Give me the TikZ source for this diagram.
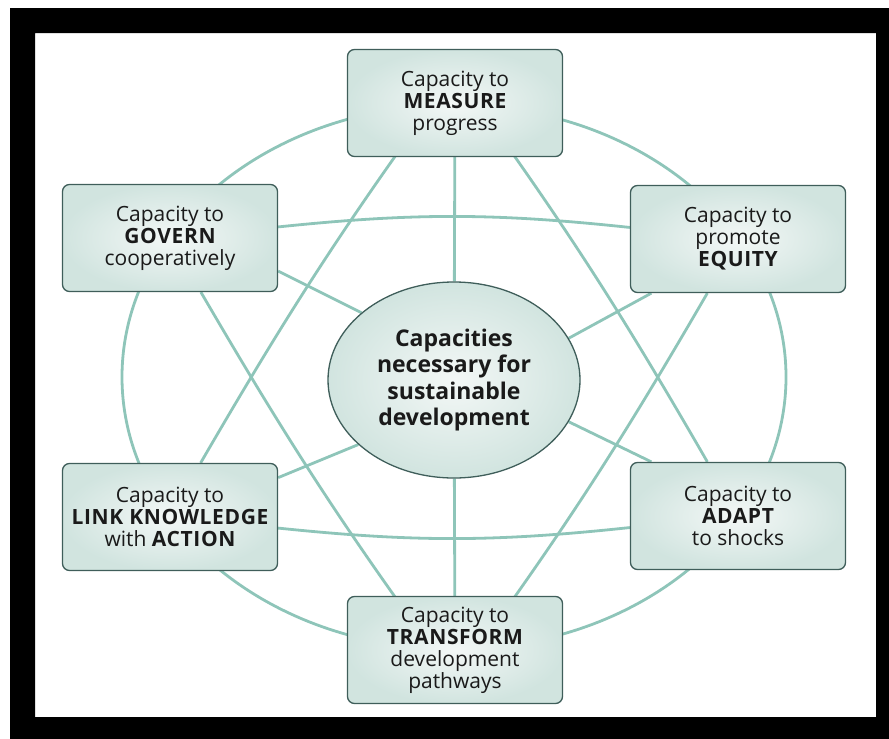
\documentclass[tikz,border=0pt]{standalone}
\usepackage{fontspec}
\setmainfont{Open Sans}
\usepackage{tikz}
\usetikzlibrary{shapes.geometric,backgrounds}

\definecolor{tieteal}{HTML}{8EC5B9}
\definecolor{boxedge}{HTML}{3F5E5A}
\definecolor{boxfill}{HTML}{E2ECE9}
\definecolor{inktext}{HTML}{1A1A1A}

% bold keyword inside a capacity box
\newcommand{\kw}[1]{{\bfseries\addfontfeatures{LetterSpace=3}#1}}

\begin{document}
\begin{tikzpicture}[x=1pt, y=-1pt,
    capbox/.style={rectangle, rounded corners=7pt, draw=boxedge, line width=1.3pt,
                   inner color=boxfill!40!white, outer color=boxfill!80!tieteal,
                   minimum width=215pt, minimum height=107pt, inner sep=1pt,
                   align=center, text=inktext, font=\fontsize{21}{22}\selectfont},
    hubnode/.style={ellipse, draw=boxedge, line width=1.3pt,
                    inner color=boxfill!40!white, outer color=boxfill!80!tieteal,
                    minimum width=252pt, minimum height=196pt, inner sep=0pt,
                    align=center, text=inktext, font=\bfseries\fontsize{23}{26.5}\selectfont},
    tie/.style={draw=tieteal, line width=2.8pt}
]
    \useasboundingbox (0,0) rectangle (889,739);

    % black frame round the page
    \fill[black, even odd rule] (10,8) rectangle (889,739) (35,33) rectangle (876,717);

    \node[hubnode] (hub) at (454,380) {Capacities\\necessary for\\sustainable\\development};

    \node[capbox] (measure) at (455,103) {Capacity to\\\kw{MEASURE}\\progress};
    \node[capbox] (equity) at (738,239) {Capacity to\\promote\\\kw{EQUITY}};
    \node[capbox] (adapt) at (738,516) {Capacity to\\\kw{ADAPT}\\to shocks};
    \node[capbox] (transform) at (455,650) {Capacity to\\\kw{TRANSFORM}\\development\\pathways};
    \node[capbox] (link) at (170,517) {Capacity to\\\kw{LINK KNOWLEDGE}\\with \kw{ACTION}};
    \node[capbox] (gov) at (170,238) {Capacity to\\\kw{GOVERN}\\cooperatively};

    \coordinate (mtip) at ([yshift=30pt]measure.center);
    \coordinate (ttip) at ([yshift=-30pt]transform.center);

    \begin{scope}[on background layer]
        % outer ring
        \draw[tie] (454,377) ellipse [x radius=332, y radius=272];
        % the two triangles, sides bowed outwards
        \draw[tie] (mtip) to[bend right=3] (link);
        \draw[tie] (mtip) to[bend left=3] (adapt);
        \draw[tie] (link) to[bend right=6] (adapt);
        \draw[tie] (ttip) to[bend left=3] (gov);
        \draw[tie] (ttip) to[bend right=3] (equity);
        \draw[tie] (gov) to[bend left=6] (equity);
        % spokes to the hub
        \draw[tie] (measure) -- (hub);
        \draw[tie] (transform) -- (hub);
        \draw[tie] (gov.-17) -- (hub.144);
        \draw[tie] (link.20) -- (hub.-146);
        \draw[tie] (equity.212) -- (hub.20);
        \draw[tie] (adapt.148) -- (hub.-20);
    \end{scope}
\end{tikzpicture}
\end{document}
